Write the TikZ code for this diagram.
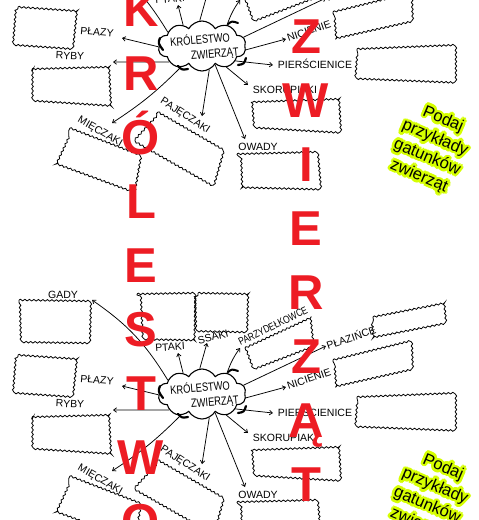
\documentclass[tikz,border=0pt]{standalone}
\usepackage{fontspec}
\setmainfont{Liberation Sans}
\newfontfamily\handfont{Liberation Sans}
\usetikzlibrary{shapes.symbols,decorations.pathmorphing,arrows.meta}
\definecolor{redL}{RGB}{237,28,36}
\definecolor{glowc}{RGB}{214,255,0}
\tikzset{
  wbox/.style={draw, line width=0.8pt, decorate, decoration={snake, segment length=4.5pt, amplitude=0.8pt}},
  lbl/.style={font=\handfont\fontsize{10.5}{12}\selectfont, inner sep=0pt},
  conn/.style={line width=0.75pt, -{Straight Barb[length=3pt,width=4.5pt]}},
  bigl/.style={font=\bfseries\fontsize{49}{49}\selectfont, text=redL, anchor=base, inner sep=0pt},
  podaj/.style={font=\fontsize{16.5}{20.5}\selectfont, align=center, rotate=-23, inner sep=0pt},
}
\newcommand\podajtxt{Podaj\\przykłady\\gatunków\\zwierząt}
\newcommand\worksheet{%
  % boxes
  \draw[wbox] (19,300) -- (88,301) -- (87,343) -- (20,342) -- cycle;
  \draw[wbox] (137,294) -- (193,293) -- (192,340) -- (139,339) -- cycle;
  \draw[wbox] (198,293) -- (248,294) -- (247,333) -- (199,332) -- cycle;
  \draw[wbox] (245,348) -- (310,318) -- (313,347) -- (253,370) -- cycle;
  \draw[wbox] (373,317) -- (445,303) -- (447,323) -- (375,337) -- cycle;
  \draw[wbox] (333,360) -- (410,341) -- (411,368) -- (335,385) -- cycle;
  \draw[wbox] (357,397) -- (455,393) -- (455,427) -- (355,423) -- cycle;
  \draw[wbox] (253,450) -- (338,447) -- (340,482) -- (255,477) -- cycle;
  \draw[wbox] (237,502) -- (315,500) -- (318,536) -- (238,534) -- cycle;
  \draw[wbox] (158,460) -- (222,497) -- (212,532) -- (133,487) -- cycle;
  \draw[wbox] (70,476) -- (140,503) -- (134,537) -- (55,508) -- cycle;
  \draw[wbox] (18,355) -- (77,359) -- (73,397) -- (15,393) -- cycle;
  \draw[wbox] (32,417) -- (108,415) -- (110,457) -- (32,452) -- cycle;
  % cloud
  \node[cloud, draw, line width=1.1pt, cloud puffs=10, cloud puff arc=120, aspect=1.7,
        minimum width=88pt, minimum height=50pt, inner sep=0pt, fill=white] (cloud) at (202,394) {};
  \draw[line width=2.2pt, line cap=round] (160,386) .. controls (158,391) .. (163,398);
  \draw[line width=2.2pt, line cap=round] (178,414) .. controls (182,418) .. (188,417);
  \draw[line width=2.2pt, line cap=round] (238,413) .. controls (244,412) .. (246,406);
  \draw[line width=2pt, line cap=round] (228,372) .. controls (232,369) .. (238,371);
  \node[lbl, font=\handfont\fontsize{12}{12}\selectfont, rotate=5, xscale=0.78] (kr) at (200,387) {KRÓLESTWO};
  \node[lbl, font=\handfont\fontsize{12}{12}\selectfont, rotate=5, xscale=0.78] (zw) at (215,403) {ZWIERZĄT};
  % labels
  \node[lbl] (gady) at (63,295) {GADY};
  \node[lbl, rotate=4] (ptaki) at (170,347) {PTAKI};
  \node[lbl, rotate=14] (ssaki) at (213,337) {SSAKI};
  \node[lbl, rotate=26, xscale=0.8] (parz) at (273,326) {PARZYDEŁKOWCE};
  \node[lbl, rotate=19] (plazince) at (351,337) {PŁAZIŃCE};
  \node[lbl, rotate=19] (nicienie) at (309,379) {NICIENIE};
  \node[lbl] (piers) at (315,412) {PIERŚCIENICE};
  \node[lbl] (skor) at (285,438) {SKORUPIAKI};
  \node[lbl] (owady) at (258,495) {OWADY};
  \node[lbl, rotate=-33] (paj) at (185,464) {PAJĘCZAKI};
  \node[lbl, rotate=-30] (miecz) at (100,480) {MIĘCZAKI};
  \node[lbl, rotate=-5] (plazy) at (97,380) {PŁAZY};
  \node[lbl, rotate=-3] (ryby) at (70,404) {RYBY};
  % arrow ends
  \coordinate (e-gady) at (92,300);
  \coordinate (e-ptaki) at (178,353);
  \coordinate (e-ssaki) at (207,343);
  \coordinate (e-parz) at (240,348);
  \coordinate (e-plazince) at (326,346);
  \coordinate (e-nicienie) at (286,387);
  \coordinate (e-piers) at (273,413);
  \coordinate (e-skor) at (248,433);
  \coordinate (e-owady) at (245,487);
  \coordinate (e-paj) at (202,464);
  \coordinate (e-miecz) at (112,471);
  \coordinate (e-ryby) at (113,410);
  \coordinate (e-plazy) at (122,386);
  % connectors
  \draw[conn] (cloud.158) to[bend right=12] (e-gady);
  \draw[conn] (cloud.132) -- (e-ptaki);
  \draw[conn] (cloud.95) -- (e-ssaki);
  \draw[conn] (cloud.40) to[bend left=8] (e-parz);
  \draw[conn] (cloud.12) -- (e-plazince);
  \draw[conn] (cloud.-5) -- (e-nicienie);
  \draw[conn] (cloud.-24) -- (e-piers);
  \draw[conn] (cloud.-41) -- (e-skor);
  \draw[conn] (cloud.-55) -- (e-owady);
  \draw[conn] (cloud.-73) -- (e-paj);
  \draw[conn] (cloud.-135) to[bend left=6] (e-miecz);
  \draw[conn] (cloud.-154) -- (e-ryby);
  \draw[conn] (cloud.-179) -- (e-plazy);
  % glowing text
  \foreach \a in {0,30,...,330}{%
    \node[podaj, text=glowc, shift={(\a:2.6pt)}] (go\a) at (431,496) {\podajtxt};}
  \foreach \a in {15,45,...,345}{%
    \node[podaj, text=glowc, shift={(\a:1.5pt)}] (gi\a) at (431,496) {\podajtxt};}
  \node[podaj, text=black] (podajtext) at (431,496) {\podajtxt};
}
\begin{document}
\begin{tikzpicture}[x=1pt,y=-1pt]
  \useasboundingbox (0,0) rectangle (479,520);
  \clip (0,0) rectangle (479,520);
  \fill[white] (0,0) rectangle (479,520);
  \begin{scope}[name prefix=b-]
    \worksheet
  \end{scope}
  \begin{scope}[yshift=348pt, name prefix=t-]
    \worksheet
  \end{scope}
  % big red letters
  \foreach \l/\yy [count=\i] in {K/26,R/90,Ó/154,L/218,E/282,S/346,T/410,W/474,O/538}{%
    \node[bigl] (kl\i) at (141,\yy) {\l};}
  \foreach \l/\yy [count=\i] in {Z/53,W/117,I/181,E/245,R/309,Z/373,Ą/437,T/501}{%
    \node[bigl] (zl\i) at (306,\yy) {\l};}
\end{tikzpicture}
\end{document}
